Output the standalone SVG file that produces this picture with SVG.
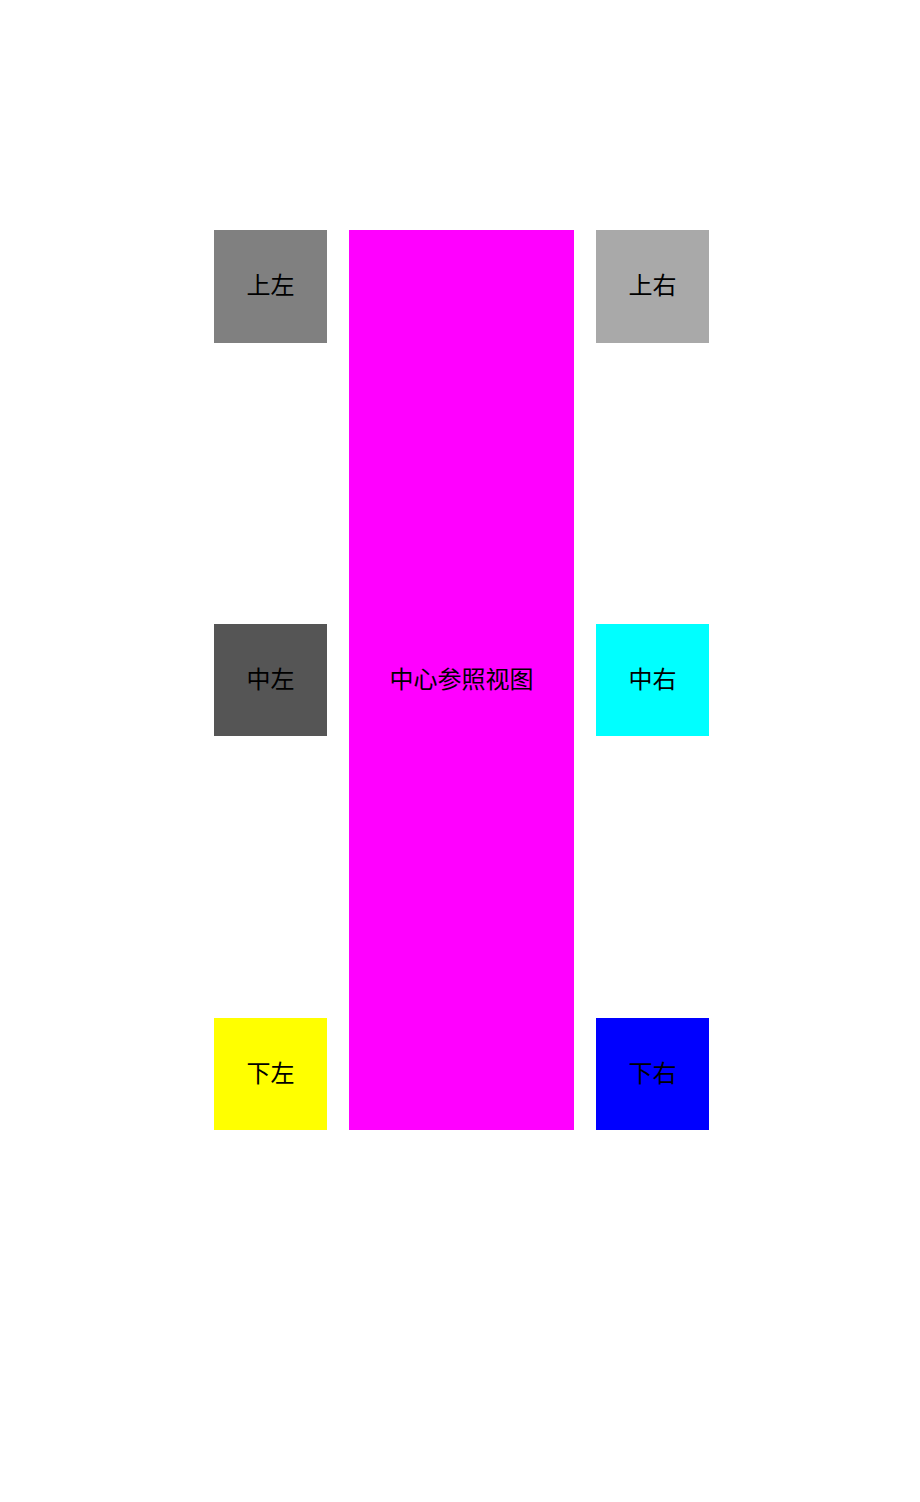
<svg xmlns="http://www.w3.org/2000/svg" width="920" height="1502" viewBox="0 0 920 1502">
<style>
text{font-family:"Noto Sans CJK SC","Noto Sans",sans-serif;font-size:24px;fill:#000;text-anchor:middle;dominant-baseline:central}
</style>
<rect width="920" height="1502" fill="#fff"/>
<g id="center"><rect x="349" y="230" width="225" height="900" fill="#FF00FF"/><text x="461.5" y="677">中心参照视图</text></g>
<g id="top-left"><rect x="214" y="230" width="113" height="113" fill="#808080"/><text x="270.5" y="283.5">上左</text></g>
<g id="top-right"><rect x="596" y="230" width="113" height="113" fill="#A9A9A9"/><text x="652.5" y="283.5">上右</text></g>
<g id="mid-left"><rect x="214" y="624" width="113" height="112" fill="#555555"/><text x="270.5" y="677">中左</text></g>
<g id="mid-right"><rect x="596" y="624" width="113" height="112" fill="#00FFFF"/><text x="652.5" y="677">中右</text></g>
<g id="bottom-left"><rect x="214" y="1018" width="113" height="112" fill="#FFFF00"/><text x="270.5" y="1071">下左</text></g>
<g id="bottom-right"><rect x="596" y="1018" width="113" height="112" fill="#0000FF"/><text x="652.5" y="1071">下右</text></g>
<g id="connectors"></g>
</svg>
